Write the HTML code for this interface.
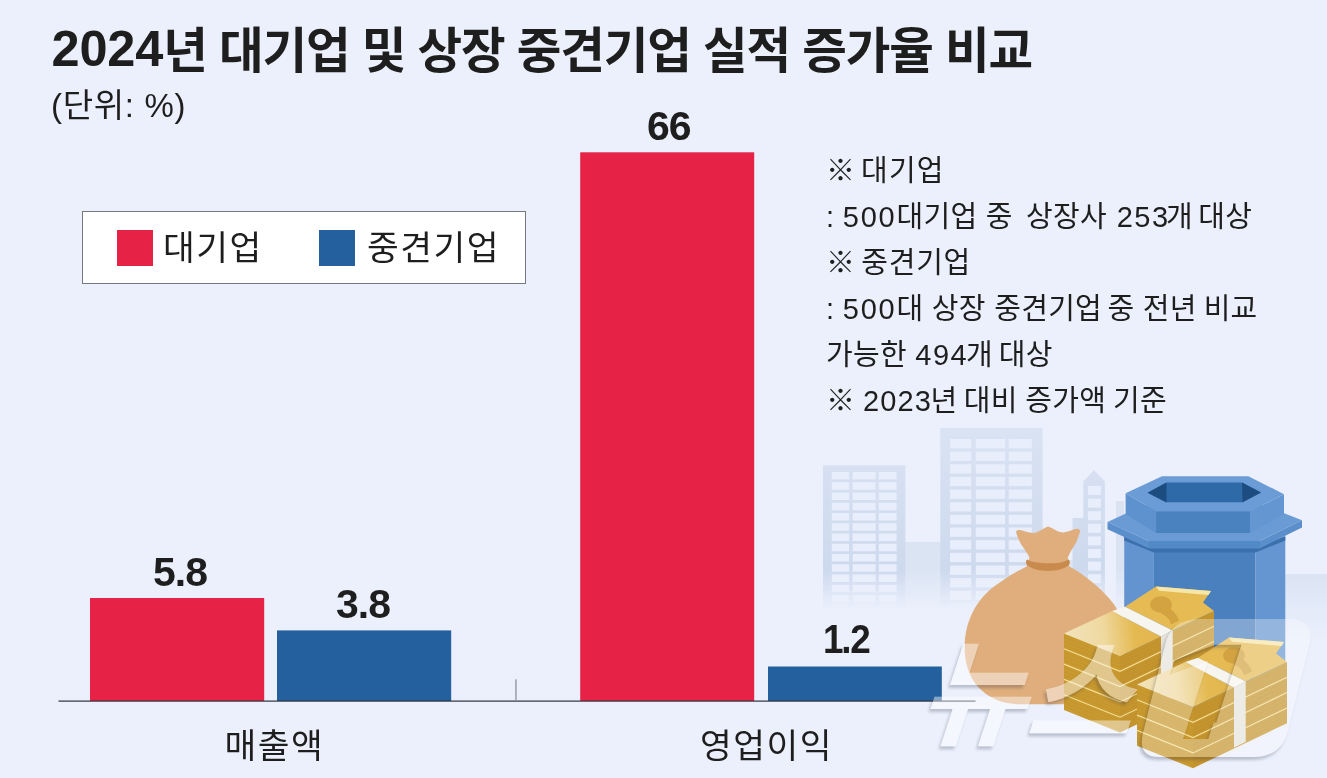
<!DOCTYPE html>
<html lang="ko">
<head>
<meta charset="utf-8">
<title>2024년 대기업 및 상장 중견기업 실적 증가율 비교</title>
<style>
html,body{margin:0;padding:0;}
body{width:1327px;height:778px;overflow:hidden;background:#ebf0fc;font-family:"Liberation Sans","Noto Sans CJK KR",sans-serif;color:#1e1e1e;}
#stage{position:relative;width:1327px;height:778px;overflow:hidden;background:#ebf0fc;}
#stage div{position:absolute;white-space:nowrap;line-height:1;}
#art{position:absolute;left:0;top:0;}
.title{left:51.5px;top:26.7px;font-size:48.5px;font-weight:700;letter-spacing:-1.15px;}
.unit{left:51px;top:88.5px;font-size:33px;letter-spacing:0.7px;}
.legend{left:81.5px;top:211.2px;width:442.5px;height:71px;background:#fff;border:1px solid #747880;box-sizing:content-box;}
.sw{width:36px;height:36px;}
.lg{font-size:34.5px;letter-spacing:1.5px;}
.val{font-size:41px;font-weight:700;letter-spacing:-1px;}
.cat{font-size:34.5px;letter-spacing:1.5px;}
.note{left:826px;font-size:29px;letter-spacing:0.3px;}
</style>
</head>
<body>
<div id="stage">
<svg id="art" width="1327" height="778" viewBox="0 0 1327 778">
<defs>
<linearGradient id="fadeB" x1="0" y1="0" x2="0" y2="1" gradientUnits="objectBoundingBox">
<stop offset="0" stop-color="#fff"/><stop offset="0.8" stop-color="#fff"/><stop offset="0.985" stop-color="#000"/><stop offset="1" stop-color="#000"/>
</linearGradient>
<mask id="mB" maskUnits="userSpaceOnUse" x="800" y="400" width="527" height="378"><rect x="800" y="400" width="527" height="212" fill="url(#fadeB)"/></mask>
<linearGradient id="gnd" x1="0" y1="0" x2="0" y2="1"><stop offset="0" stop-color="#d9e2f3"/><stop offset="1" stop-color="#ebf0fc"/></linearGradient>
<linearGradient id="gndx" x1="0" y1="0" x2="1" y2="0"><stop offset="0" stop-color="#fff" stop-opacity="0"/><stop offset="0.5" stop-color="#fff"/><stop offset="1" stop-color="#fff"/></linearGradient>
<linearGradient id="bld" gradientUnits="userSpaceOnUse" x1="0" y1="428" x2="0" y2="580"><stop offset="0" stop-color="#dae3f3"/><stop offset="1" stop-color="#ccd8ed"/></linearGradient>
<filter id="wsh" x="-10%" y="-10%" width="120%" height="130%"><feGaussianBlur stdDeviation="1.6"/></filter>
</defs>
<g mask="url(#mB)">
<rect x="905" y="542" width="36" height="70" fill="#dbe4f3"/>
<rect x="1042" y="560" width="31" height="52" fill="#dde5f4"/>
<rect x="1072.5" y="518" width="12" height="94" fill="url(#bld)"/>
<rect x="1116" y="501" width="8" height="111" fill="#dbe3f3"/>
<rect x="823" y="465.3" width="82.3" height="150" fill="url(#bld)"/>
<rect x="831.8" y="472.0" width="17.3" height="7.5" fill="#e8eefb"/>
<rect x="831.8" y="482.2" width="17.3" height="7.5" fill="#e8eefb"/>
<rect x="831.8" y="492.5" width="17.3" height="7.5" fill="#e8eefb"/>
<rect x="831.8" y="502.8" width="17.3" height="7.5" fill="#e8eefb"/>
<rect x="831.8" y="513.0" width="17.3" height="7.5" fill="#e8eefb"/>
<rect x="831.8" y="523.2" width="17.3" height="7.5" fill="#e8eefb"/>
<rect x="831.8" y="533.5" width="17.3" height="7.5" fill="#e8eefb"/>
<rect x="831.8" y="543.8" width="17.3" height="7.5" fill="#e8eefb"/>
<rect x="831.8" y="554.0" width="17.3" height="7.5" fill="#e8eefb"/>
<rect x="831.8" y="564.2" width="17.3" height="7.5" fill="#e8eefb"/>
<rect x="831.8" y="574.5" width="17.3" height="7.5" fill="#e8eefb"/>
<rect x="831.8" y="584.8" width="17.3" height="7.5" fill="#e8eefb"/>
<rect x="831.8" y="595.0" width="17.3" height="7.5" fill="#e8eefb"/>
<rect x="831.8" y="605.2" width="17.3" height="7.5" fill="#e8eefb"/>
<rect x="852.6" y="472.0" width="23.0" height="7.5" fill="#e8eefb"/>
<rect x="852.6" y="482.2" width="23.0" height="7.5" fill="#e8eefb"/>
<rect x="852.6" y="492.5" width="23.0" height="7.5" fill="#e8eefb"/>
<rect x="852.6" y="502.8" width="23.0" height="7.5" fill="#e8eefb"/>
<rect x="852.6" y="513.0" width="23.0" height="7.5" fill="#e8eefb"/>
<rect x="852.6" y="523.2" width="23.0" height="7.5" fill="#e8eefb"/>
<rect x="852.6" y="533.5" width="23.0" height="7.5" fill="#e8eefb"/>
<rect x="852.6" y="543.8" width="23.0" height="7.5" fill="#e8eefb"/>
<rect x="852.6" y="554.0" width="23.0" height="7.5" fill="#e8eefb"/>
<rect x="852.6" y="564.2" width="23.0" height="7.5" fill="#e8eefb"/>
<rect x="852.6" y="574.5" width="23.0" height="7.5" fill="#e8eefb"/>
<rect x="852.6" y="584.8" width="23.0" height="7.5" fill="#e8eefb"/>
<rect x="852.6" y="595.0" width="23.0" height="7.5" fill="#e8eefb"/>
<rect x="852.6" y="605.2" width="23.0" height="7.5" fill="#e8eefb"/>
<rect x="878.8" y="472.0" width="17.8" height="7.5" fill="#e8eefb"/>
<rect x="878.8" y="482.2" width="17.8" height="7.5" fill="#e8eefb"/>
<rect x="878.8" y="492.5" width="17.8" height="7.5" fill="#e8eefb"/>
<rect x="878.8" y="502.8" width="17.8" height="7.5" fill="#e8eefb"/>
<rect x="878.8" y="513.0" width="17.8" height="7.5" fill="#e8eefb"/>
<rect x="878.8" y="523.2" width="17.8" height="7.5" fill="#e8eefb"/>
<rect x="878.8" y="533.5" width="17.8" height="7.5" fill="#e8eefb"/>
<rect x="878.8" y="543.8" width="17.8" height="7.5" fill="#e8eefb"/>
<rect x="878.8" y="554.0" width="17.8" height="7.5" fill="#e8eefb"/>
<rect x="878.8" y="564.2" width="17.8" height="7.5" fill="#e8eefb"/>
<rect x="878.8" y="574.5" width="17.8" height="7.5" fill="#e8eefb"/>
<rect x="878.8" y="584.8" width="17.8" height="7.5" fill="#e8eefb"/>
<rect x="878.8" y="595.0" width="17.8" height="7.5" fill="#e8eefb"/>
<rect x="878.8" y="605.2" width="17.8" height="7.5" fill="#e8eefb"/>
<rect x="940.3" y="428" width="102.3" height="190" fill="url(#bld)"/>
<rect x="950.1" y="439.0" width="21.1" height="9.3" fill="#e8eefb"/>
<rect x="950.1" y="451.6" width="21.1" height="9.3" fill="#e8eefb"/>
<rect x="950.1" y="464.3" width="21.1" height="9.3" fill="#e8eefb"/>
<rect x="950.1" y="476.9" width="21.1" height="9.3" fill="#e8eefb"/>
<rect x="950.1" y="489.6" width="21.1" height="9.3" fill="#e8eefb"/>
<rect x="950.1" y="502.2" width="21.1" height="9.3" fill="#e8eefb"/>
<rect x="950.1" y="514.9" width="21.1" height="9.3" fill="#e8eefb"/>
<rect x="950.1" y="527.5" width="21.1" height="9.3" fill="#e8eefb"/>
<rect x="950.1" y="540.2" width="21.1" height="9.3" fill="#e8eefb"/>
<rect x="950.1" y="552.8" width="21.1" height="9.3" fill="#e8eefb"/>
<rect x="950.1" y="565.5" width="21.1" height="9.3" fill="#e8eefb"/>
<rect x="950.1" y="578.1" width="21.1" height="9.3" fill="#e8eefb"/>
<rect x="950.1" y="590.8" width="21.1" height="9.3" fill="#e8eefb"/>
<rect x="950.1" y="603.4" width="21.1" height="9.3" fill="#e8eefb"/>
<rect x="975.8" y="439.0" width="29.3" height="9.3" fill="#e8eefb"/>
<rect x="975.8" y="451.6" width="29.3" height="9.3" fill="#e8eefb"/>
<rect x="975.8" y="464.3" width="29.3" height="9.3" fill="#e8eefb"/>
<rect x="975.8" y="476.9" width="29.3" height="9.3" fill="#e8eefb"/>
<rect x="975.8" y="489.6" width="29.3" height="9.3" fill="#e8eefb"/>
<rect x="975.8" y="502.2" width="29.3" height="9.3" fill="#e8eefb"/>
<rect x="975.8" y="514.9" width="29.3" height="9.3" fill="#e8eefb"/>
<rect x="975.8" y="527.5" width="29.3" height="9.3" fill="#e8eefb"/>
<rect x="975.8" y="540.2" width="29.3" height="9.3" fill="#e8eefb"/>
<rect x="975.8" y="552.8" width="29.3" height="9.3" fill="#e8eefb"/>
<rect x="975.8" y="565.5" width="29.3" height="9.3" fill="#e8eefb"/>
<rect x="975.8" y="578.1" width="29.3" height="9.3" fill="#e8eefb"/>
<rect x="975.8" y="590.8" width="29.3" height="9.3" fill="#e8eefb"/>
<rect x="975.8" y="603.4" width="29.3" height="9.3" fill="#e8eefb"/>
<rect x="1008.7" y="439.0" width="23.2" height="9.3" fill="#e8eefb"/>
<rect x="1008.7" y="451.6" width="23.2" height="9.3" fill="#e8eefb"/>
<rect x="1008.7" y="464.3" width="23.2" height="9.3" fill="#e8eefb"/>
<rect x="1008.7" y="476.9" width="23.2" height="9.3" fill="#e8eefb"/>
<rect x="1008.7" y="489.6" width="23.2" height="9.3" fill="#e8eefb"/>
<rect x="1008.7" y="502.2" width="23.2" height="9.3" fill="#e8eefb"/>
<rect x="1008.7" y="514.9" width="23.2" height="9.3" fill="#e8eefb"/>
<rect x="1008.7" y="527.5" width="23.2" height="9.3" fill="#e8eefb"/>
<rect x="1008.7" y="540.2" width="23.2" height="9.3" fill="#e8eefb"/>
<rect x="1008.7" y="552.8" width="23.2" height="9.3" fill="#e8eefb"/>
<rect x="1008.7" y="565.5" width="23.2" height="9.3" fill="#e8eefb"/>
<rect x="1008.7" y="578.1" width="23.2" height="9.3" fill="#e8eefb"/>
<rect x="1008.7" y="590.8" width="23.2" height="9.3" fill="#e8eefb"/>
<rect x="1008.7" y="603.4" width="23.2" height="9.3" fill="#e8eefb"/>
<polygon points="1083.3,612 1083.3,481.5 1094,470 1104.9,481.5 1104.9,612" fill="url(#bld)"/>
<rect x="1088" y="486.0" width="12.9" height="9" fill="#e8eefb"/>
<rect x="1088" y="498.6" width="12.9" height="9" fill="#e8eefb"/>
<rect x="1088" y="511.2" width="12.9" height="9" fill="#e8eefb"/>
<rect x="1088" y="523.8" width="12.9" height="9" fill="#e8eefb"/>
<rect x="1088" y="536.4" width="12.9" height="9" fill="#e8eefb"/>
<rect x="1088" y="549.0" width="12.9" height="9" fill="#e8eefb"/>
<rect x="1088" y="561.6" width="12.9" height="9" fill="#e8eefb"/>
<rect x="1088" y="574.2" width="12.9" height="9" fill="#e8eefb"/>
<rect x="1088" y="586.8" width="12.9" height="9" fill="#e8eefb"/>
<rect x="1088" y="599.4" width="12.9" height="9" fill="#e8eefb"/>
</g>
<rect x="1285" y="574" width="42" height="70" fill="url(#gnd)" opacity="0.85"/>
<polygon points="1124.2,537 1153.9,548 1153.9,712 1124.2,700" fill="#6394d0"/>
<polygon points="1153.9,548 1255.6,548 1255.6,712 1153.9,712" fill="#4a80be"/>
<polygon points="1255.6,548 1285.3,537 1285.3,700 1255.6,712" fill="#6696d1"/>
<polygon points="1124.2,536 1153.9,548 1255.6,548 1285.3,536 1285.3,540.5 1255.6,552.5 1153.9,552.5 1124.2,540.5" fill="#3b70ae"/>
<polygon points="1107.5,522 1148.5,503 1258,503 1302,520.3 1260,541 1148.5,541" fill="#6a9bd4"/>
<polygon points="1107.5,522 1148.5,541 1260,541 1302,520.3 1302,527.5 1260,548.2 1148.5,548.2 1107.5,529.2" fill="#5a8fcc"/>
<polygon points="1148.5,541 1260,541 1260,548.2 1148.5,548.2" fill="#5289c7"/>
<polygon points="1125.6,493.3 1156.2,511.3 1156.2,532.9 1125.6,514" fill="#5d92ce"/>
<polygon points="1156.2,511.3 1250.2,511.3 1250.2,532.9 1156.2,532.9" fill="#4a81bf"/>
<polygon points="1250.2,511.3 1284,494.2 1284,514 1250.2,532.9" fill="#6496d1"/>
<polygon points="1125.6,493.3 1162,476.2 1248.4,476.2 1284,494.2 1250.2,511.3 1156.2,511.3" fill="#6b9cd5"/>
<polygon points="1147.6,492.8 1166.5,482.5 1242,482.5 1261,492.4 1242.6,502.3 1165.6,502.3" fill="#2f6aa8"/>
<polygon points="1147.6,492.8 1166.5,482.5 1166.5,502.3" fill="#1d4c80"/>
<polygon points="1261,492.4 1242,482.5 1242.6,502.3" fill="#1d4c80"/>

  <!-- bars -->
  <rect x="90" y="598" width="174.2" height="103" fill="#e62346"/>
  <rect x="277" y="630.4" width="174.2" height="70.6" fill="#25609e"/>
  <rect x="580.2" y="152.3" width="174" height="548.7" fill="#e62346"/>
  <rect x="768" y="666.5" width="173.8" height="34.5" fill="#25609e"/>
  <!-- axis -->
  <rect x="58.5" y="700.5" width="917" height="1.2" fill="#2e323a"/>
  <rect x="515.3" y="679.3" width="1.3" height="21.5" fill="#8d91a0"/>

<!-- bag over axis -->
<path d="M1016.3,533 C1015.6,530.5 1017.5,529.6 1020,530 C1024,530.6 1028,532.8 1032.8,533 C1038.5,533.2 1043,528 1048.1,526.5 C1053,528 1058,532.8 1063.4,532.5 C1068.5,532.2 1072.5,529 1076.5,528.7 C1079.3,528.5 1080.6,530 1079.8,532.5 C1078.3,537.5 1076.6,541.8 1074.3,545.6 C1072,549.5 1069.8,553 1067.8,557.5 L1069.3,566.5 C1085,574.5 1103,590 1113,603 C1124,618 1128,640 1124,660 C1119,686 1103,704.3 1075,704.3 L1017.5,704.3 C990,703 968,686 965,655 C962.5,625 975,602 992,588 C1003,579.5 1015,572 1026.6,566.5 L1029.5,557.5 C1027.2,553 1024.5,549.5 1021.9,545.6 C1019.6,541.8 1017.6,537.5 1016.3,533 Z" fill="#dfae7c"/>
<path d="M1027,559.6 C1033,562.8 1040,563.3 1048.1,563.3 C1056,563.3 1063,562.6 1068.7,559.4 C1070.3,561 1070.2,563.5 1068.9,565 C1064,569.3 1056,570.9 1048.1,570.9 C1040,570.9 1032,569.3 1027,565 C1025.6,563.5 1025.5,561 1027,559.6 Z" fill="#c98b4d"/>
<g>
<polygon points="1064.0,633.5 1120.0,656.0 1120.0,732.5 1064.0,710.0" fill="#c8992f"/>
<polygon points="1120.0,656.0 1214.0,611.0 1214.0,687.5 1120.0,732.5" fill="#c4942e"/>
<polyline points="1064.0,648.8 1120.0,671.3 1214.0,626.3" fill="none" stroke="#f3dd94" stroke-width="1.15"/>
<polyline points="1064.0,664.1 1120.0,686.6 1214.0,641.6" fill="none" stroke="#f3dd94" stroke-width="1.15"/>
<polyline points="1064.0,679.4 1120.0,701.9 1214.0,656.9" fill="none" stroke="#f3dd94" stroke-width="1.15"/>
<polyline points="1064.0,694.7 1120.0,717.2 1214.0,672.2" fill="none" stroke="#f3dd94" stroke-width="1.15"/>
<polyline points="1064.0,637.3 1120.0,659.8 1214.0,614.8" fill="none" stroke="#b98a2a" stroke-opacity="0.35" stroke-width="0.8"/>
<polyline points="1064.0,641.1 1120.0,663.6 1214.0,618.6" fill="none" stroke="#b98a2a" stroke-opacity="0.35" stroke-width="0.8"/>
<polyline points="1064.0,645.0 1120.0,667.5 1214.0,622.5" fill="none" stroke="#b98a2a" stroke-opacity="0.35" stroke-width="0.8"/>
<polyline points="1064.0,652.6 1120.0,675.1 1214.0,630.1" fill="none" stroke="#b98a2a" stroke-opacity="0.35" stroke-width="0.8"/>
<polyline points="1064.0,656.5 1120.0,679.0 1214.0,634.0" fill="none" stroke="#b98a2a" stroke-opacity="0.35" stroke-width="0.8"/>
<polyline points="1064.0,660.3 1120.0,682.8 1214.0,637.8" fill="none" stroke="#b98a2a" stroke-opacity="0.35" stroke-width="0.8"/>
<polyline points="1064.0,667.9 1120.0,690.4 1214.0,645.4" fill="none" stroke="#b98a2a" stroke-opacity="0.35" stroke-width="0.8"/>
<polyline points="1064.0,671.8 1120.0,694.2 1214.0,649.2" fill="none" stroke="#b98a2a" stroke-opacity="0.35" stroke-width="0.8"/>
<polyline points="1064.0,675.6 1120.0,698.1 1214.0,653.1" fill="none" stroke="#b98a2a" stroke-opacity="0.35" stroke-width="0.8"/>
<polyline points="1064.0,683.2 1120.0,705.7 1214.0,660.7" fill="none" stroke="#b98a2a" stroke-opacity="0.35" stroke-width="0.8"/>
<polyline points="1064.0,687.0 1120.0,709.5 1214.0,664.5" fill="none" stroke="#b98a2a" stroke-opacity="0.35" stroke-width="0.8"/>
<polyline points="1064.0,690.9 1120.0,713.4 1214.0,668.4" fill="none" stroke="#b98a2a" stroke-opacity="0.35" stroke-width="0.8"/>
<polyline points="1064.0,698.5 1120.0,721.0 1214.0,676.0" fill="none" stroke="#b98a2a" stroke-opacity="0.35" stroke-width="0.8"/>
<polyline points="1064.0,702.4 1120.0,724.9 1214.0,679.9" fill="none" stroke="#b98a2a" stroke-opacity="0.35" stroke-width="0.8"/>
<polyline points="1064.0,706.2 1120.0,728.7 1214.0,683.7" fill="none" stroke="#b98a2a" stroke-opacity="0.35" stroke-width="0.8"/>
<polygon points="1161.0,636.5 1172.7,630.5 1172.7,706.0 1161.0,712.0" fill="#e6e3dc"/>
<polygon points="1125.0,606.8 1156.0,586.5 1211.0,591.0 1203.0,602.5 1214.0,611.0 1172.7,630.5" fill="#e6bb54"/>
<polygon points="1156.0,586.5 1211.0,591.0 1208.5,595.0 1159.0,590.7" fill="#f6e6a8"/>
<ellipse cx="1161.0" cy="604.5" rx="11" ry="8.2" fill="#d2a340"/>
<path d="M1165.0,606.5 q10,3 14,14 l-8,4 q-2,-8 -10,-11 z" fill="#d2a340"/>
<linearGradient id="tg1" gradientUnits="userSpaceOnUse" x1="1064.0" y1="633.5" x2="1161.0" y2="622.5"><stop offset="0" stop-color="#f2e3bc"/><stop offset="0.4" stop-color="#efd9a0"/><stop offset="0.72" stop-color="#e4b950"/><stop offset="1" stop-color="#e3b64e"/></linearGradient>
<polygon points="1064.0,633.5 1112.2,611.0 1161.0,636.5 1120.0,656.0" fill="url(#tg1)"/>
<polygon points="1112.2,611.0 1125.0,606.8 1172.7,630.5 1161.0,636.5" fill="#f7f5ef"/>
</g>
<g>
<polygon points="1137.0,684.5 1193.0,707.0 1193.0,768.2 1137.0,745.7" fill="#c8992f"/>
<polygon points="1193.0,707.0 1287.0,662.0 1287.0,723.2 1193.0,768.2" fill="#c4942e"/>
<polyline points="1137.0,699.8 1193.0,722.3 1287.0,677.3" fill="none" stroke="#f3dd94" stroke-width="1.15"/>
<polyline points="1137.0,715.1 1193.0,737.6 1287.0,692.6" fill="none" stroke="#f3dd94" stroke-width="1.15"/>
<polyline points="1137.0,730.4 1193.0,752.9 1287.0,707.9" fill="none" stroke="#f3dd94" stroke-width="1.15"/>
<polyline points="1137.0,688.3 1193.0,710.8 1287.0,665.8" fill="none" stroke="#b98a2a" stroke-opacity="0.35" stroke-width="0.8"/>
<polyline points="1137.0,692.1 1193.0,714.6 1287.0,669.6" fill="none" stroke="#b98a2a" stroke-opacity="0.35" stroke-width="0.8"/>
<polyline points="1137.0,696.0 1193.0,718.5 1287.0,673.5" fill="none" stroke="#b98a2a" stroke-opacity="0.35" stroke-width="0.8"/>
<polyline points="1137.0,703.6 1193.0,726.1 1287.0,681.1" fill="none" stroke="#b98a2a" stroke-opacity="0.35" stroke-width="0.8"/>
<polyline points="1137.0,707.5 1193.0,730.0 1287.0,685.0" fill="none" stroke="#b98a2a" stroke-opacity="0.35" stroke-width="0.8"/>
<polyline points="1137.0,711.3 1193.0,733.8 1287.0,688.8" fill="none" stroke="#b98a2a" stroke-opacity="0.35" stroke-width="0.8"/>
<polyline points="1137.0,718.9 1193.0,741.4 1287.0,696.4" fill="none" stroke="#b98a2a" stroke-opacity="0.35" stroke-width="0.8"/>
<polyline points="1137.0,722.8 1193.0,745.2 1287.0,700.2" fill="none" stroke="#b98a2a" stroke-opacity="0.35" stroke-width="0.8"/>
<polyline points="1137.0,726.6 1193.0,749.1 1287.0,704.1" fill="none" stroke="#b98a2a" stroke-opacity="0.35" stroke-width="0.8"/>
<polyline points="1137.0,734.2 1193.0,756.7 1287.0,711.7" fill="none" stroke="#b98a2a" stroke-opacity="0.35" stroke-width="0.8"/>
<polyline points="1137.0,738.0 1193.0,760.5 1287.0,715.5" fill="none" stroke="#b98a2a" stroke-opacity="0.35" stroke-width="0.8"/>
<polyline points="1137.0,741.9 1193.0,764.4 1287.0,719.4" fill="none" stroke="#b98a2a" stroke-opacity="0.35" stroke-width="0.8"/>
<polygon points="1234.0,687.5 1245.7,681.5 1245.7,741.7 1234.0,747.7" fill="#e6e3dc"/>
<polygon points="1198.0,657.8 1229.0,637.5 1284.0,642.0 1276.0,653.5 1287.0,662.0 1245.7,681.5" fill="#e6bb54"/>
<polygon points="1229.0,637.5 1284.0,642.0 1281.5,646.0 1232.0,641.7" fill="#f6e6a8"/>
<ellipse cx="1234.0" cy="655.5" rx="11" ry="8.2" fill="#d2a340"/>
<path d="M1238.0,657.5 q10,3 14,14 l-8,4 q-2,-8 -10,-11 z" fill="#d2a340"/>
<linearGradient id="tg2" gradientUnits="userSpaceOnUse" x1="1137.0" y1="684.5" x2="1234.0" y2="673.5"><stop offset="0" stop-color="#f2e3bc"/><stop offset="0.4" stop-color="#efd9a0"/><stop offset="0.72" stop-color="#e4b950"/><stop offset="1" stop-color="#e3b64e"/></linearGradient>
<polygon points="1137.0,684.5 1185.2,662.0 1234.0,687.5 1193.0,707.0" fill="url(#tg2)"/>
<polygon points="1185.2,662.0 1198.0,657.8 1245.7,681.5 1234.0,687.5" fill="#f7f5ef"/>
</g>

<!-- watermark -->
<filter id="wfx" x="-10%" y="-15%" width="120%" height="135%" color-interpolation-filters="sRGB">
<feGaussianBlur in="SourceAlpha" stdDeviation="1.8"/>
<feOffset dx="-2.5" dy="2.5" result="o"/>
<feComposite in="o" in2="SourceAlpha" operator="out" result="sh"/>
<feColorMatrix in="sh" type="matrix" values="0 0 0 0 0.12  0 0 0 0 0.14  0 0 0 0 0.25  0 0 0 0.24 0" result="shc"/>
<feColorMatrix in="SourceGraphic" type="matrix" values="1 0 0 0 0  0 1 0 0 0  0 0 1 0 0  0 0 0 0.3 0" result="g"/>
<feMerge><feMergeNode in="shc"/><feMergeNode in="g"/></feMerge>
</filter>
<filter id="wfx2" x="-10%" y="-15%" width="120%" height="135%" color-interpolation-filters="sRGB">
<feGaussianBlur in="SourceAlpha" stdDeviation="1.8"/>
<feOffset dx="-2.5" dy="2.5" result="o"/>
<feComposite in="o" in2="SourceAlpha" operator="out" result="sh"/>
<feColorMatrix in="sh" type="matrix" values="0 0 0 0 0.12  0 0 0 0 0.14  0 0 0 0 0.25  0 0 0 0.24 0" result="shc"/>
<feColorMatrix in="SourceGraphic" type="matrix" values="1 0 0 0 0  0 1 0 0 0  0 0 1 0 0  0 0 0 0.45 0" result="g"/>
<feMerge><feMergeNode in="shc"/><feMergeNode in="g"/></feMerge>
</filter>
<mask id="m1" maskUnits="userSpaceOnUse" x="1100" y="600" width="260" height="200">
<rect x="1100" y="600" width="260" height="200" fill="#fff"/>
<g transform="translate(1134.8,738.5) skewX(-18) scale(1.5,1)"><text x="0" y="0" font-family="'Liberation Sans','Noto Sans CJK KR',sans-serif" font-weight="700" font-size="137" fill="#000">1</text><rect x="4" y="-16" width="28.3" height="19" fill="#fff"/><rect x="49.1" y="-16" width="28" height="19" fill="#fff"/></g>
</mask>
<g filter="url(#wfx2)">
<text x="0" y="0" font-family="'Liberation Sans','Noto Sans CJK KR',sans-serif" font-weight="700" font-size="116" fill="#fff" transform="translate(917,736) skewX(-18)">뉴스</text>
</g>
<g filter="url(#wfx)">
<path d="M1199,619 H1288 Q1316,619 1309,647 L1288,731 Q1281,757 1254,757 H1160 Q1137,757 1143,733 L1165,645 Q1171,619 1199,619 Z" fill="#fff" mask="url(#m1)"/>
</g>
</svg>
<div class="title"><span style="letter-spacing:-0.15px;font-size:50.5px;position:relative;top:-1.6px;line-height:0">2024</span>년 대기업 및 상장 중견기업 실적 증가율 비교</div>
<div class="unit">(단위: %)</div>
<div class="legend"></div>
<div class="sw" style="left:117px;top:230px;background:#e62346"></div>
<div class="lg" style="left:163px;top:231px;">대기업</div>
<div class="sw" style="left:319px;top:230px;background:#25609e"></div>
<div class="lg" style="left:367px;top:231px;">중견기업</div>
<div class="val" style="left:153px;top:552px;">5.8</div>
<div class="val" style="left:336px;top:584px;">3.8</div>
<div class="val" style="left:647px;top:106px;">66</div>
<div class="val" style="left:823px;top:619px;letter-spacing:0;transform:scaleX(0.9);transform-origin:0 0;"><span style="letter-spacing:-2.5px">1</span><span style="letter-spacing:-1.5px">.</span>2</div>
<div class="cat" style="left:224.5px;top:729px;">매출액</div>
<div class="cat" style="left:700px;top:729px;">영업이익</div>
<div class="note" style="top:157px;">※<span style="word-spacing:-2.6px"> </span><span style="letter-spacing:1.2px">대기업</span></div>
<div class="note" style="top:202.5px;">: <span style="letter-spacing:1.8px">500</span>대기업 중<span style="word-spacing:-1.8px">&nbsp; </span>상장사<span style="word-spacing:1.4px"> </span><span style="letter-spacing:1.5px">25</span><span style="letter-spacing:-2px">3</span>개<span style="word-spacing:-3.2px"> </span>대상</div>
<div class="note" style="top:249px;">※<span style="word-spacing:-2.5px"> </span><span style="letter-spacing:0.8px">중견기업</span></div>
<div class="note" style="top:295px;">: <span style="letter-spacing:1.8px">500</span>대 상장 중견기업<span style="word-spacing:-3px"> </span>중 전년<span style="word-spacing:-1.5px"> </span>비교</div>
<div class="note" style="top:341px;">가능한 <span style="letter-spacing:1.5px">49</span><span style="letter-spacing:-0.7px">4</span>개<span style="word-spacing:-2.6px"> </span>대상</div>
<div class="note" style="top:387px;">※<span style="word-spacing:-0.7px"> </span><span style="letter-spacing:1.1px">202</span><span style="letter-spacing:-0.2px">3</span>년<span style="word-spacing:-2.2px"> </span>대비<span style="word-spacing:-0.9px"> </span>증가액<span style="word-spacing:-1.5px"> </span>기준</div>
</div>
</body>
</html>
